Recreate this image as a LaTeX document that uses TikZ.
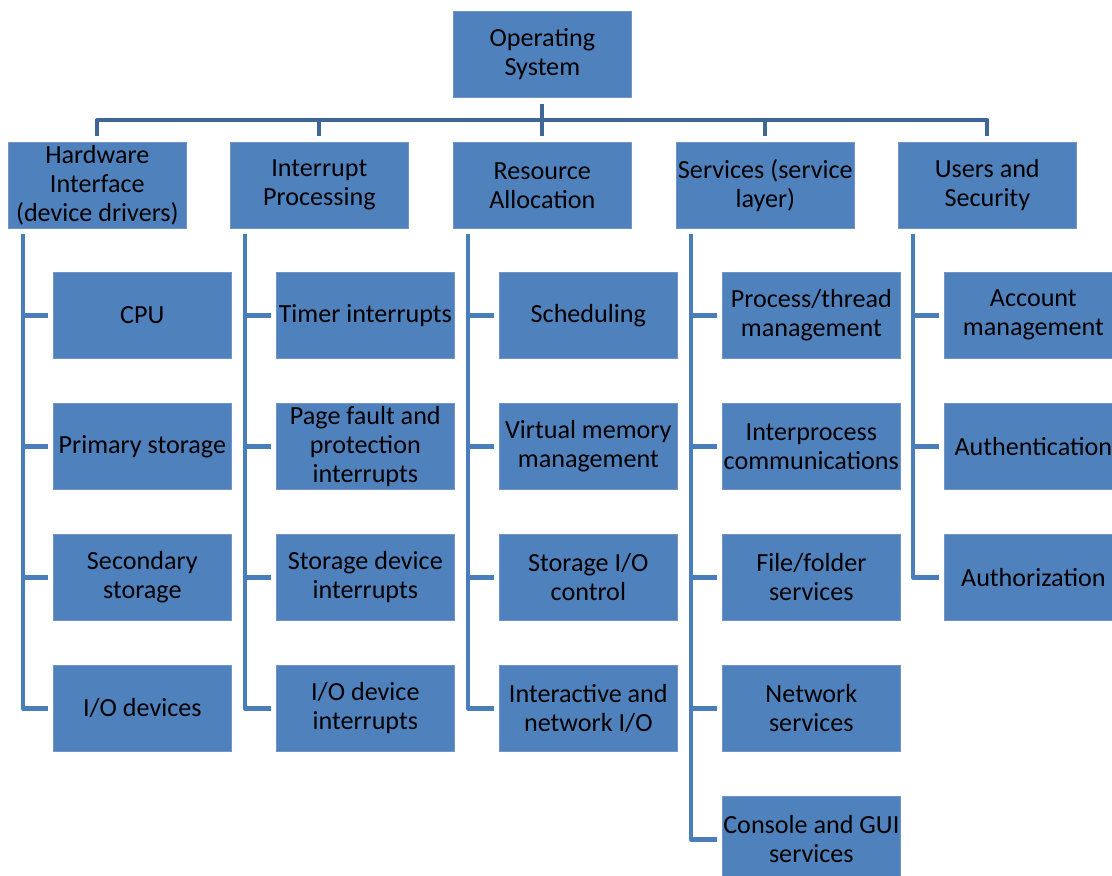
\documentclass[tikz,border=0pt]{standalone}
\usepackage{fontspec}
\setmainfont{Carlito}
\definecolor{boxfill}{HTML}{4F81BD}
\definecolor{boxedge}{HTML}{7095C6}
\definecolor{busline}{HTML}{3F6796}
\definecolor{kidline}{HTML}{4A7EBB}
\begin{document}
\begin{tikzpicture}[x=0.75pt,y=-0.75pt,
  box/.style={draw=boxedge,line width=0.5pt,fill=boxfill,minimum width=133.5pt,minimum height=64.5pt,
    inner sep=0pt,align=center,font=\fontsize{19.6}{21.75}\selectfont,anchor=north west},
  bus/.style={draw=busline,line width=3pt,line join=round},
  kid/.style={draw=kidline,line width=3.5pt,line join=round}]
\useasboundingbox (0,0) rectangle (1112,875);
\clip (0,0) rectangle (1112,875);
% top
\node[box] (os) at (453,11) {Operating\\System};
% level 1
\node[box] (hw) at (8,142) {Hardware\\Interface\\(device drivers)};
\node[box] (ip) at (230,142) {Interrupt\\Processing};
\node[box] (ra) at (453,142) {Resource\\Allocation};
\node[box] (sv) at (676,142) {Services (service\\layer)};
\node[box] (us) at (898,142) {Users and\\Security};
% column 1
\node[box] (hw1) at (53,272) {CPU};
\node[box] (hw2) at (53,403) {Primary storage};
\node[box] (hw3) at (53,534) {Secondary\\storage};
\node[box] (hw4) at (53,665) {I/O devices};
% column 2
\node[box] (ip1) at (276,272) {Timer interrupts};
\node[box] (ip2) at (276,403) {Page fault and\\protection\\interrupts};
\node[box] (ip3) at (276,534) {Storage device\\interrupts};
\node[box] (ip4) at (276,665) {I/O device\\interrupts};
% column 3
\node[box] (ra1) at (499,272) {Scheduling};
\node[box] (ra2) at (499,403) {Virtual memory\\management};
\node[box] (ra3) at (499,534) {Storage I/O\\control};
\node[box] (ra4) at (499,665) {Interactive and\\network I/O};
% column 4
\node[box] (sv1) at (722,272) {Process/thread\\management};
\node[box] (sv2) at (722,403) {Interprocess\\communications};
\node[box] (sv3) at (722,534) {File/folder\\services};
\node[box] (sv4) at (722,665) {Network\\services};
\node[box] (sv5) at (722,796) {Console and GUI\\services};
% column 5
\node[box] (us1) at (944,272) {Account\\management};
\node[box] (us2) at (944,403) {Authentication};
\node[box] (us3) at (944,534) {Authorization};
% bus
\coordinate (busy) at (0,120);
\draw[bus] ([yshift=-4.5pt]os.south) -- ([yshift=4.5pt]ra.north);
\draw[bus] ([yshift=4.5pt]hw.north) -- (hw.north |- busy) -- (us.north |- busy) -- ([yshift=4.5pt]us.north);
\foreach \n in {ip,sv}{
  \draw[bus] (\n.north |- busy) -- ([yshift=4.5pt]\n.north);
}
% child connectors
\foreach \p/\last/\others in {hw/hw4/{hw1,hw2,hw3},ip/ip4/{ip1,ip2,ip3},ra/ra4/{ra1,ra2,ra3},sv/sv5/{sv1,sv2,sv3,sv4},us/us3/{us1,us2}}{
  \coordinate (\p top) at ([xshift=11.25pt,yshift=-3.75pt]\p.south west);
  \draw[kid] (\p top) |- ([xshift=-3.75pt]\last.west);
  \foreach \c in \others {
    \draw[kid] (\p top |- \c.west) -- ([xshift=-3.75pt]\c.west);
  }
}
\end{tikzpicture}
\end{document}
